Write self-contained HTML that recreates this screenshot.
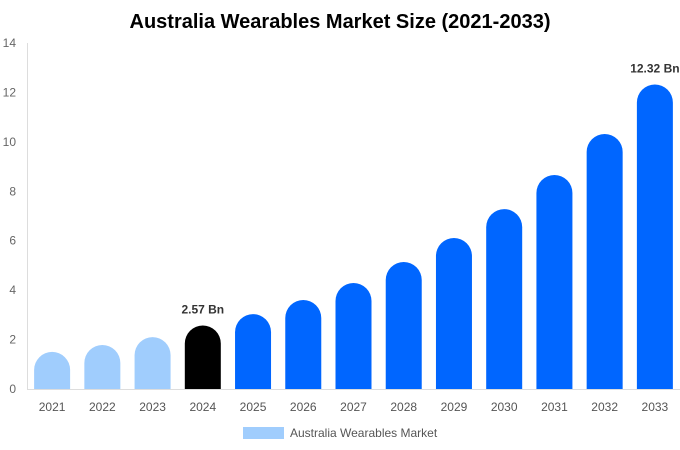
<!DOCTYPE html>
<html><head><meta charset="utf-8"><style>
body{margin:0;background:#fff;}
svg{display:block;font-family:"Liberation Sans",sans-serif;}
</style></head><body>
<svg id="chart" width="680" height="450">
<text x="340" y="28" text-anchor="middle" font-size="20" font-weight="bold" fill="#000">Australia Wearables Market Size (2021-2033)</text>
<line x1="27.5" y1="43" x2="27.5" y2="389" stroke="#ddd"/>
<line x1="27" y1="389.5" x2="680" y2="389.5" stroke="#ddd"/>
<g id="yticks"></g><g id="bars"></g><g id="xticks"></g>
<rect x="243" y="427" width="41" height="12" fill="#a0cdfd"/>
<text x="290" y="437" font-size="12" fill="#555">Australia Wearables Market</text>
</svg>
<script>
const categories=["2021","2022","2023","2024","2025","2026","2027","2028","2029","2030","2031","2032","2033"];
const values=[1.5,1.78,2.1,2.57,3.03,3.6,4.29,5.14,6.11,7.28,8.66,10.32,12.32];
const colors=["#a0cdfd","#a0cdfd","#a0cdfd","#000000","#0066ff","#0066ff","#0066ff","#0066ff","#0066ff","#0066ff","#0066ff","#0066ff","#0066ff"];
const valueLabels=["","","","2.57 Bn","","","","","","","","","12.32 Bn"];
const yTicks=[0,2,4,6,8,10,12,14];
const NS="http://www.w3.org/2000/svg";
const x0=27,x1=680,yb=389,yt=43,ymax=14;
const band=(x1-x0)/categories.length;
const bw=36;
function y(v){return yb-(v/ymax)*(yb-yt);}
function xc(i){return x0+band*(i+0.5);}
function mk(t,a,p){const e=document.createElementNS(NS,t);for(const k in a)e.setAttribute(k,a[k]);p.appendChild(e);return e;}
const yg=document.getElementById('yticks');
yTicks.forEach(t=>{const e=mk('text',{x:16,y:y(t)+4,'text-anchor':'end','font-size':12,fill:'#666'},yg);e.textContent=t;

});
const bg=document.getElementById('bars'),xg=document.getElementById('xticks');
categories.forEach((c,i)=>{
 const cx=xc(i),top=y(values[i]),r=bw/2,l=cx-r,rt=cx+r;
 const h=yb-top;
 let d;
 if(h>r) d=`M${l},${yb}V${top+r}A${r},${r} 0 0 1 ${rt},${top+r}V${yb}Z`;
 else d=`M${l},${yb}V${top+h}A${r},${h} 0 0 1 ${rt},${top+h}Z`;
 const p=mk('path',{d:d,fill:colors[i]},bg);
 
 
 const t=mk('text',{x:cx,y:yb+22,'text-anchor':'middle','font-size':12,fill:'#555'},xg);t.textContent=c;
 
 
 if(valueLabels[i]){const v=mk('text',{x:cx,y:top-12,'text-anchor':'middle','font-size':12,'font-weight':'bold',fill:'#333'},bg);v.textContent=valueLabels[i];
 
 }
});
</script>
</body></html>
